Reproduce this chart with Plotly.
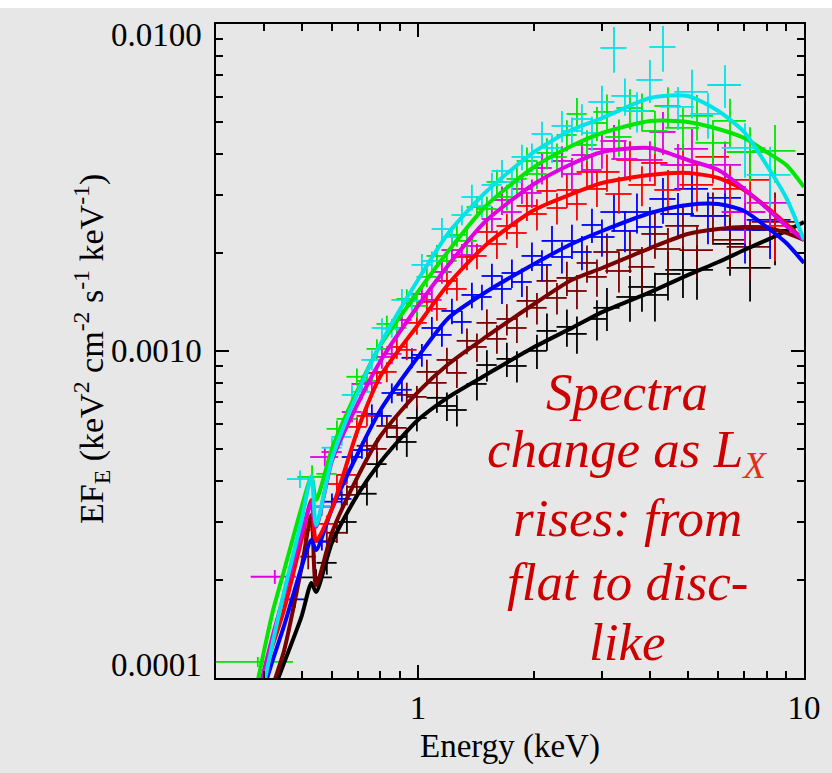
import math
import plotly.graph_objects as go

# ---------------- data (EF_E values in units of 1e-3 keV^2 cm^-2 s^-1 keV^-1) ----------------
UNIT = 1e-3

MODEL_E = [0.38, 0.42, 0.45, 0.50, 0.53, 0.545, 0.6, 0.7, 0.8, 1.0, 1.2, 1.5, 2.0, 2.5,
           3.0, 4.0, 5.0, 6.0, 7.0, 8.0, 9.0, 10.0]
MODEL_BLACK = [0.0646, 0.0894, 0.1111, 0.1547, 0.1952, 0.1832, 0.2606, 0.3656, 0.458, 0.615, 0.723,
               0.845, 1.028, 1.175, 1.315, 1.514, 1.706, 1.871, 2.037, 2.183, 2.328, 2.478]
MODEL_MAROON = [0.0629, 0.0939, 0.1209, 0.2185, 0.3151, 0.1924, 0.2796, 0.4147, 0.5496, 0.749, 0.9124,
                1.104, 1.392, 1.648, 1.794, 2.065, 2.279, 2.361, 2.395, 2.377, 2.296, 2.185]
MODEL_BLUE = [0.0771, 0.1127, 0.1442, 0.2185, 0.2642, 0.2463, 0.3310, 0.4876, 0.6600, 0.9587, 1.262,
              1.515, 1.846, 2.124, 2.328, 2.642, 2.796, 2.815, 2.680, 2.395, 2.139, 1.858]
MODEL_RED = [0.0833, 0.1253, 0.1614, 0.2661, 0.3502, 0.2624, 0.3310, 0.5775, 0.8383, 1.201, 1.603,
             2.110, 2.699, 3.020, 3.264, 3.453, 3.502, 3.381, 3.107, 2.757, 2.446, 2.185]
MODEL_MAGENTA = [0.0827, 0.1335, 0.1794, 0.2776, 0.3429, 0.2896, 0.4642, 0.6934, 0.932, 1.373, 1.832,
                 2.498, 3.241, 3.731, 4.061, 4.176, 3.838, 3.577, 3.129, 2.737, 2.412, 2.185]
MODEL_GREEN = [0.0912, 0.1581, 0.2125, 0.3333, 0.4119, 0.3502, 0.5051, 0.765, 1.043, 1.515, 2.022,
               2.776, 3.653, 4.235, 4.642, 5.051, 5.015, 4.774, 4.48, 4.061, 3.705, 3.173]
MODEL_CYAN = [0.0723, 0.1271, 0.1832, 0.3042, 0.4147, 0.2937, 0.4708, 0.749, 1.050, 1.648, 2.296,
              3.063, 4.061, 4.740, 5.157, 5.939, 6.024, 5.418, 4.674, 3.705, 2.937, 2.185]

# energy bins (centres and half widths, keV) of the two binnings
E_G1 = [0.564, 0.599, 0.635, 0.675, 0.716, 0.760, 0.807, 0.856, 0.909, 0.965, 1.024, 1.087, 1.154,
        1.225, 1.300, 1.380, 1.465, 1.555, 1.651, 1.752, 1.860, 1.974, 2.096, 2.225, 2.361, 2.506,
        2.660, 2.824, 2.997, 3.220, 3.438, 3.693, 3.990, 4.313, 4.717, 5.127, 5.640, 6.243, 7.034, 8.166]
DE_G1 = [0.034, 0.036, 0.038, 0.040, 0.043, 0.046, 0.048, 0.051, 0.055, 0.058, 0.061, 0.065, 0.069,
         0.074, 0.078, 0.083, 0.088, 0.093, 0.099, 0.105, 0.112, 0.118, 0.126, 0.134, 0.142, 0.150,
         0.160, 0.169, 0.234, 0.251, 0.268, 0.288, 0.311, 0.336, 0.472, 0.513, 0.564, 0.624, 0.915, 1.062]
E_G2 = [0.581, 0.617, 0.655, 0.695, 0.738, 0.783, 0.831, 0.882, 0.936, 0.994, 1.055, 1.120, 1.189,
        1.262, 1.340, 1.422, 1.509, 1.602, 1.700, 1.805, 1.916, 2.034, 2.159, 2.292, 2.432, 2.582,
        2.741, 2.909, 3.088, 3.317, 3.542, 3.805, 4.111, 4.443, 4.859, 5.283, 5.811, 6.432, 7.249, 8.413]
DE_G2 = [0.035, 0.037, 0.039, 0.042, 0.044, 0.047, 0.050, 0.053, 0.056, 0.060, 0.063, 0.067, 0.071,
         0.076, 0.080, 0.085, 0.091, 0.096, 0.102, 0.108, 0.115, 0.122, 0.130, 0.138, 0.146, 0.155,
         0.164, 0.175, 0.241, 0.259, 0.276, 0.297, 0.321, 0.347, 0.486, 0.528, 0.581, 0.643, 0.942, 1.094]

# measured fluxes (x1e-3) and fractional errors
F_CYAN = [0.336, 0.506, 0.546, 0.734, 0.750, 0.939, 1.176, 1.168, 1.433, 1.423, 1.833, 1.885, 2.361,
          2.232, 2.606, 2.958, 2.777, 3.220, 3.553, 3.288, 3.921, 3.921, 4.610, 4.178, 4.878, 4.709,
          5.123, 4.643, 5.776, 8.446, 6.025, 5.421, 6.743, 8.506, 5.576, 6.197, 5.307, 6.509, 4.178, 3.454]
R_CYAN = [0.06, 0.07, 0.06, 0.07, 0.06, 0.07, 0.07, 0.06, 0.08, 0.07, 0.08, 0.07, 0.08, 0.08, 0.07,
          0.09, 0.08, 0.09, 0.08, 0.10, 0.09, 0.10, 0.09, 0.10, 0.11, 0.10, 0.11, 0.12, 0.12, 0.16,
          0.13, 0.14, 0.15, 0.16, 0.15, 0.17, 0.16, 0.15, 0.19, 0.22]
F_MAGENTA = [0.334, 0.491, None, 0.651, 0.793, 0.799, 0.959, 0.980, 1.244, None, 1.494, 1.433, 1.745,
             2.036, 1.966, 2.095, None, 2.534, 2.896, 2.661, 3.130, 3.043, 3.628, None, 3.812, 3.478,
             3.976, 3.578, 4.148, 4.388, 3.866, None, 3.839, 4.676, 3.706, 4.148, None, 3.706, 2.661, 2.836]
R_MAGENTA = [0.06, 0.06, 0.07, 0.07, 0.06, 0.07, 0.08, 0.07, 0.07, 0.08, 0.07, 0.08, 0.08, 0.09, 0.08,
             0.08, 0.09, 0.09, 0.10, 0.09, 0.10, 0.10, 0.11, 0.10, 0.11, 0.12, 0.11, 0.12, 0.13, 0.12,
             0.13, 0.14, 0.14, 0.15, 0.16, 0.15, 0.17, 0.18, 0.20, 0.22]
F_BLUE = [0.261, 0.346, 0.353, 0.474, 0.498, 0.642, 0.633, 0.744, 0.761, 0.953, 0.973, 1.176, 1.120,
          1.326, 1.227, 1.484, 1.463, 1.696, 1.548, 1.732, 1.626, 1.953, 1.833, 2.171, 1.939, 2.171,
          2.008, 2.429, 2.232, 2.661, 2.329, 2.661, 2.395, 2.917, 2.624, 3.130, 2.588, 2.938, 2.345, 2.516]
R_BLUE = [0.06, 0.06, 0.06, 0.07, 0.06, 0.07, 0.07, 0.07, 0.08, 0.07, 0.08, 0.08, 0.08, 0.09, 0.08,
          0.09, 0.09, 0.09, 0.10, 0.10, 0.10, 0.10, 0.11, 0.11, 0.11, 0.12, 0.12, 0.12, 0.13, 0.13,
          0.14, 0.14, 0.15, 0.16, 0.16, 0.17, 0.18, 0.18, 0.21, 0.24]
F_GREEN = [0.421, 0.578, 0.620, 0.834, 0.810, 1.015, 1.210, 1.176, 1.443, 1.374, 1.685, 1.953, 1.885,
           2.264, 2.171, 2.757, 2.718, 3.288, 2.958, 3.358, 3.812, 3.478, 4.033, 3.921, 4.578, 5.307,
           4.266, 4.981, 5.383, 4.514, 5.536, 5.421, 4.709, 5.615, 4.809, 5.233, 4.327, 5.052, 4.061, 4.090]
R_GREEN = [0.06, 0.06, 0.07, 0.06, 0.07, 0.07, 0.06, 0.08, 0.07, 0.08, 0.07, 0.08, 0.08, 0.08, 0.09,
           0.08, 0.09, 0.09, 0.09, 0.10, 0.10, 0.10, 0.11, 0.10, 0.11, 0.12, 0.11, 0.12, 0.13, 0.13,
           0.14, 0.13, 0.15, 0.14, 0.15, 0.16, 0.17, 0.17, 0.19, 0.20]
F_RED = [0.296, 0.392, 0.418, 0.586, 0.633, 0.857, 0.863, 1.029, 1.008, 1.219, 1.413, 1.345, 1.638,
         1.548, 1.939, 1.953, 2.312, 2.125, 2.412, 2.296, 2.777, 2.624, 3.086, 2.737, 3.108, 2.816,
         3.528, 3.130, 3.528, 3.021, 3.839, 3.220, 3.759, 3.108, 3.706, 3.220, 3.921, 3.130, 3.335, 2.412]
R_RED = [0.06, 0.07, 0.06, 0.07, 0.07, 0.06, 0.07, 0.08, 0.07, 0.08, 0.08, 0.08, 0.09, 0.08, 0.09,
         0.09, 0.09, 0.10, 0.09, 0.10, 0.10, 0.11, 0.10, 0.11, 0.12, 0.11, 0.12, 0.12, 0.13, 0.13,
         0.14, 0.14, 0.15, 0.15, 0.16, 0.17, 0.17, 0.18, 0.20, 0.22]
F_MAROON = [0.262, 0.278, 0.363, 0.384, 0.513, 0.502, 0.590, 0.582, 0.734, 0.724, 0.863, 0.799, 0.939,
            0.857, 1.074, 1.029, 1.219, 1.089, 1.253, 1.176, 1.423, 1.355, 1.638, 1.453, 1.673, 1.526,
            1.859, 1.685, 2.008, 1.757, 2.036, 1.808, 2.280, 2.051, 2.412, 2.036, 2.588, 2.186, 2.081, 2.481]
R_MAROON = [0.07, 0.07, 0.07, 0.08, 0.07, 0.08, 0.08, 0.08, 0.09, 0.08, 0.09, 0.09, 0.09, 0.10, 0.09,
            0.10, 0.10, 0.10, 0.11, 0.10, 0.11, 0.11, 0.12, 0.11, 0.12, 0.12, 0.13, 0.13, 0.14, 0.14,
            0.15, 0.15, 0.16, 0.16, 0.17, 0.18, 0.18, 0.19, 0.21, 0.23]
F_BLACK = [0.225, None, 0.300, None, 0.366, 0.451, None, 0.546, 0.527, 0.624, None, 0.719, 0.679,
           0.660, None, 0.793, 0.906, None, 0.946, 0.900, None, 1.001, 1.152, None, 1.185, 1.128,
           None, 1.253, 1.355, None, 1.463, 1.570, 1.484, 1.720, 1.770, 1.770, None, 2.125, 1.795, 2.345]
R_BLACK = [0.08, 0.08, 0.08, 0.09, 0.08, 0.09, 0.09, 0.09, 0.10, 0.09, 0.10, 0.10, 0.10, 0.11, 0.10,
           0.11, 0.11, 0.11, 0.12, 0.11, 0.12, 0.12, 0.13, 0.12, 0.13, 0.13, 0.14, 0.14, 0.15, 0.15,
           0.16, 0.16, 0.17, 0.17, 0.18, 0.19, 0.19, 0.20, 0.21, 0.22]

# wide low-energy bins
LOW_SERIES = ["green", "magenta", "blue", "black", "cyan", "green", "magenta", "maroon", "red"]
LOW_E = [0.385, 0.426, 0.480, 0.545, 0.495, 0.532, 0.574, 0.520, 0.510]
LOW_DE = [0.090, 0.057, 0.035, 0.054, 0.037, 0.045, 0.048, 0.024, 0.020]
LOW_F = [0.112, 0.204, 0.174, 0.203, 0.406, 0.412, 0.474, 0.235, 0.284]
LOW_DF = [0.004, 0.010, 0.010, 0.012, 0.025, 0.035, 0.030, 0.020, 0.020]

# ---------------- styling ----------------
COLORS = {"black": "#000000", "maroon": "#7a0000", "blue": "#0000ff", "red": "#ff0000",
          "magenta": "#e000e0", "green": "#00e600", "cyan": "#00e4e8"}
SERIES = [
    ("black", E_G2, DE_G2, F_BLACK, R_BLACK, MODEL_BLACK),
    ("maroon", E_G2, DE_G2, F_MAROON, R_MAROON, MODEL_MAROON),
    ("blue", E_G1, DE_G1, F_BLUE, R_BLUE, MODEL_BLUE),
    ("red", E_G2, DE_G2, F_RED, R_RED, MODEL_RED),
    ("magenta", E_G1, DE_G1, F_MAGENTA, R_MAGENTA, MODEL_MAGENTA),
    ("green", E_G2, DE_G2, F_GREEN, R_GREEN, MODEL_GREEN),
    ("cyan", E_G1, DE_G1, F_CYAN, R_CYAN, MODEL_CYAN),
]

SERIF = "Liberation Serif"
fig = go.Figure()

for name, E, DE, F, R, _m in SERIES:
    xs, dxs, ys, dys = [], [], [], []
    for e, de, f, r in zip(E, DE, F, R):
        if f is None:
            continue
        xs.append(e); dxs.append(de); ys.append(f * UNIT); dys.append(f * r * UNIT)
    for s, e, de, f, df in zip(LOW_SERIES, LOW_E, LOW_DE, LOW_F, LOW_DF):
        if s == name:
            xs.append(e); dxs.append(de); ys.append(f * UNIT); dys.append(df * UNIT)
    c = COLORS[name]
    fig.add_trace(go.Scatter(
        x=xs, y=ys, mode="markers", marker=dict(size=1, color=c),
        error_x=dict(type="data", array=dxs, symmetric=True, color=c, thickness=1.8, width=0),
        error_y=dict(type="data", array=dys, symmetric=True, color=c, thickness=1.8, width=0),
        showlegend=False, hoverinfo="skip"))

for name, E, DE, F, R, M in SERIES:
    fig.add_trace(go.Scatter(
        x=MODEL_E, y=[v * UNIT for v in M], mode="lines",
        line=dict(color=COLORS[name], width=4, shape="spline", smoothing=0.7),
        showlegend=False, hoverinfo="skip"))

axis_common = dict(
    ticks="inside", tickcolor="black", tickwidth=1.5, showline=True, linecolor="black",
    linewidth=1.6, mirror="allticks", showgrid=False, zeroline=False,
)
fig.update_xaxes(
    type="log", range=[math.log10(0.3), 1.0],
    tickvals=[1, 10], ticktext=["1", "10"], ticklen=13,
    tickfont=dict(family=SERIF, size=33, color="black"),
    minor=dict(tickvals=[0.4, 0.5, 0.6, 0.7, 0.8, 0.9, 2, 3, 4, 5, 6, 7, 8, 9],
               ticks="inside", ticklen=7, tickwidth=1.5, tickcolor="black", showgrid=False),
    **axis_common)
fig.update_yaxes(
    type="log", range=[-4, -2],
    tickvals=[1e-4, 1e-3, 1e-2], showticklabels=False, ticklen=13,
    minor=dict(tickvals=[k * 1e-4 for k in range(2, 10)] + [k * 1e-3 for k in range(2, 10)],
               ticks="inside", ticklen=7, tickwidth=1.5, tickcolor="black", showgrid=False),
    **axis_common)

annotations = []
for lab, lv, ys in [("0.0100", -2, -11), ("0.0010", -3, 0), ("0.0001", -4, 13)]:
    annotations.append(dict(text=lab, xref="paper", x=0, yref="y", y=lv, xanchor="right",
                            yanchor="middle", xshift=-12, yshift=ys, showarrow=False,
                            font=dict(family=SERIF, size=33, color="black")))
annotations.append(dict(text="Energy (keV)", xref="paper", x=0.5, yref="paper", y=-0.104,
                        xanchor="center", yanchor="middle", showarrow=False,
                        font=dict(family=SERIF, size=33, color="black")))
annotations.append(dict(text="EF<sub>E</sub> (keV<sup>2</sup> cm<sup>-2</sup> s<sup>-1</sup> keV<sup>-1</sup>)",
                        xref="paper", x=-0.2126, yref="paper", y=0.503, textangle=-90,
                        xanchor="center", yanchor="middle", showarrow=False,
                        font=dict(family=SERIF, size=34, color="black")))
RED_TXT = "#cc0000"
lines = ["Spectra",
         "change as L<sub><span style='color:#e0301a'>X</span></sub>",
         "rises: from", "flat to disc-", "like"]
ys_px = [392, 453, 518, 582, 642]
for t, py in zip(lines, ys_px):
    annotations.append(dict(text="<i>" + t + "</i>", xref="paper", x=(627 - 216) / 588,
                            yref="paper", y=(678 - py) / 654, xanchor="center", yanchor="middle",
                            showarrow=False, font=dict(family=SERIF, size=53, color=RED_TXT)))

fig.update_layout(
    width=832, height=773,
    margin=dict(l=216, r=28, t=24, b=95),
    paper_bgcolor="#e7e7e7", plot_bgcolor="#e7e7e7",
    annotations=annotations,
    shapes=[dict(type="rect", xref="paper", yref="paper", x0=-1, x1=2,
                 y0=1 + 16 / 654, y1=1.1, fillcolor="white", line=dict(width=0), layer="below")],
)

fig.write_html("out.html")
